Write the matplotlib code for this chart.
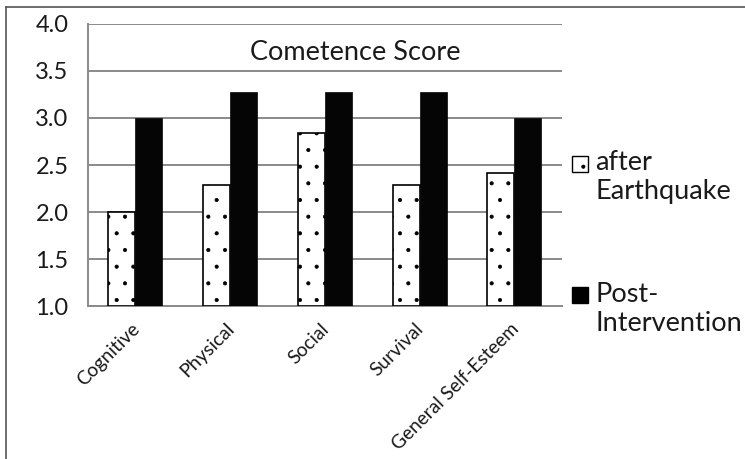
import matplotlib.pyplot as plt
from matplotlib.patches import Rectangle
from matplotlib.lines import Line2D
import numpy as np

plt.rcParams['font.family'] = ['Lato', 'DejaVu Sans']
plt.rcParams['hatch.linewidth'] = 0.5

# Data
categories = ['Cognitive', 'Physical', 'Social', 'Survival', 'General Self-Esteem']
after_quake = [2.0, 2.29, 2.84, 2.29, 2.42]
post_interv = [3.0, 3.28, 3.28, 3.28, 3.0]
series_names = ['after\nEarthquake', 'Post-\nIntervention']
yticks = [1.0, 1.5, 2.0, 2.5, 3.0, 3.5, 4.0]

fig = plt.figure(figsize=(7.45, 4.59), dpi=100)
ax = fig.add_axes([0.118, 0.333, 0.636, 0.615])

x = np.arange(len(categories))
w = 0.285
ax.bar(x - w / 2, np.array(after_quake) - 1.0, w, bottom=1.0, color='white',
       edgecolor='black', linewidth=1.2, hatch='.', zorder=3)
ax.bar(x + w / 2, np.array(post_interv) - 1.0, w, bottom=1.0, color='#050505',
       edgecolor='#050505', linewidth=0.5, zorder=3)

ax.set_xlim(-0.5, len(categories) - 0.5)
ax.set_ylim(1.0, 4.0)
ax.set_yticks(yticks)
ax.set_yticklabels([f'{t:.1f}' for t in yticks], fontsize=17, color='#1a1a1a')
ax.yaxis.grid(True, color='#8a8a8a', linewidth=1.4, zorder=0)
ax.set_axisbelow(True)
ax.tick_params(axis='y', length=0, pad=14)
ax.tick_params(axis='x', length=0, pad=10)

ax.set_xticks(x - 0.05)
ax.set_xticklabels(categories, rotation=45, ha='right', va='top',
                   rotation_mode='anchor', fontsize=13.8, color='#1a1a1a')

for s in ['top', 'right']:
    ax.spines[s].set_visible(False)
for s in ['left', 'bottom']:
    ax.spines[s].set_color('#8a8a8a')
    ax.spines[s].set_linewidth(1.4)

ax.text(0.565, 0.9, 'Cometence Score', transform=ax.transAxes, ha='center',
        va='center', fontsize=19.5, color='#1a1a1a')

# legend drawn by hand at the right
fig.patches.append(Rectangle((572 / 745, 1 - 172 / 459), 16 / 745, 16 / 459,
                             transform=fig.transFigure, facecolor='white',
                             edgecolor='black', linewidth=1.0, hatch='.'))
fig.patches.append(Rectangle((572 / 745, 1 - 303 / 459), 16 / 745, 16 / 459,
                             transform=fig.transFigure, facecolor='black',
                             edgecolor='black', linewidth=1.0))
fig.text(595 / 745, 1 - 150 / 459, series_names[0], ha='left', va='top',
         fontsize=19.5, color='#1a1a1a', linespacing=1.2)
fig.text(595 / 745, 1 - 282 / 459, series_names[1], ha='left', va='top',
         fontsize=19.5, color='#1a1a1a', linespacing=1.2)

# outer frame (left and top edges visible)
fig.add_artist(Line2D([6 / 745, 6 / 745], [0, 1 - 7 / 459], transform=fig.transFigure,
                      color='#555555', linewidth=1.2))
fig.add_artist(Line2D([6 / 745, 1], [1 - 7 / 459, 1 - 7 / 459], transform=fig.transFigure,
                      color='#555555', linewidth=1.2))

fig.savefig('out.png', dpi=100)
